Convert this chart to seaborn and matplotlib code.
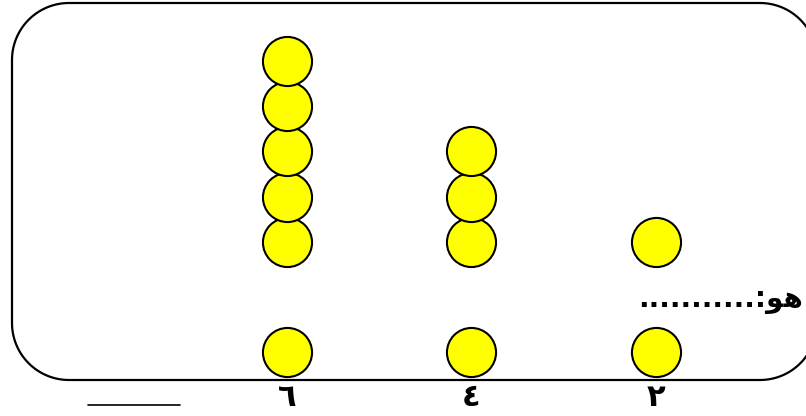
import matplotlib
matplotlib.use('Agg')
import numpy as np
import pandas as pd
import matplotlib.pyplot as plt
import seaborn as sns
from matplotlib.patches import PathPatch
from matplotlib.path import Path
from matplotlib.lines import Line2D

# values shown under each column (Arabic-Indic digits) and how many circles each has
values = [6, 4, 2]
labels = ['٦', '٤', '٢']
counts = [6, 4, 2]
# "هو:..........." written in visual order with Arabic presentation forms (matplotlib does no shaping)
answer_text = '...........:' + '\uFEEE' + '\uFEEB'

sns.set_style('white')
plt.rcParams['font.family'] = ['DejaVu Sans']

# one row per circle: first circle sits on the base row, the rest are stacked above a gap
rows = []
for v, c in zip(values, counts):
    for i in range(c):
        rows.append({'value': v, 'level': i})
df = pd.DataFrame(rows)
stack_gap = 1.43
df['y'] = np.where(df['level'] == 0, 0, df['level'] + stack_gap)

fig = plt.figure(figsize=(8.06, 4.16), dpi=100)
ax = fig.add_axes([0, 0, 1, 1])

sns.scatterplot(data=df, x='value', y='y', s=1250, color='#FFFF00',
                edgecolor='black', linewidth=1.5, ax=ax, zorder=3, legend=False)
ax.set_xlim(9.111, 0.374)
ax.set_ylim(-1.413, 7.77)
ax.axis('off')

# column labels under the box
for v, lab in zip(values, labels):
    ax.text(v, 0.045, lab, transform=ax.get_xaxis_transform(), ha='center', va='center',
            fontsize=22, fontweight='bold', color='black')


def rounded_frame(x0, y0, x1, y1, r, n=30):
    # closed outline with circular corners, in inches
    pts = []
    corners = [(x1 - r, y1 - r, 0), (x0 + r, y1 - r, 90), (x0 + r, y0 + r, 180), (x1 - r, y0 + r, 270)]
    for cx, cy, a0 in corners:
        t = np.radians(np.linspace(a0, a0 + 90, n))
        pts.extend(zip(cx + r * np.cos(t), cy + r * np.sin(t)))
    pts.append(pts[0])
    return Path(pts)


# rounded frame (right side runs off the picture)
frame = PathPatch(rounded_frame(0.12, 0.36, 8.17, 4.13, 0.57), transform=fig.dpi_scale_trans,
                  fill=False, lw=1.6, ec='black')
fig.add_artist(frame)

# answer prompt on the right edge
fig.text(803 / 806, (416 - 300) / 416, answer_text, ha='right', va='center',
         fontsize=20, fontweight='bold', color='black')

# short answer line bottom left
fig.add_artist(Line2D([88 / 806, 180 / 806], [(416 - 405) / 416] * 2,
                      transform=fig.transFigure, color='black', lw=1.2))

fig.savefig('out.png', dpi=100)
